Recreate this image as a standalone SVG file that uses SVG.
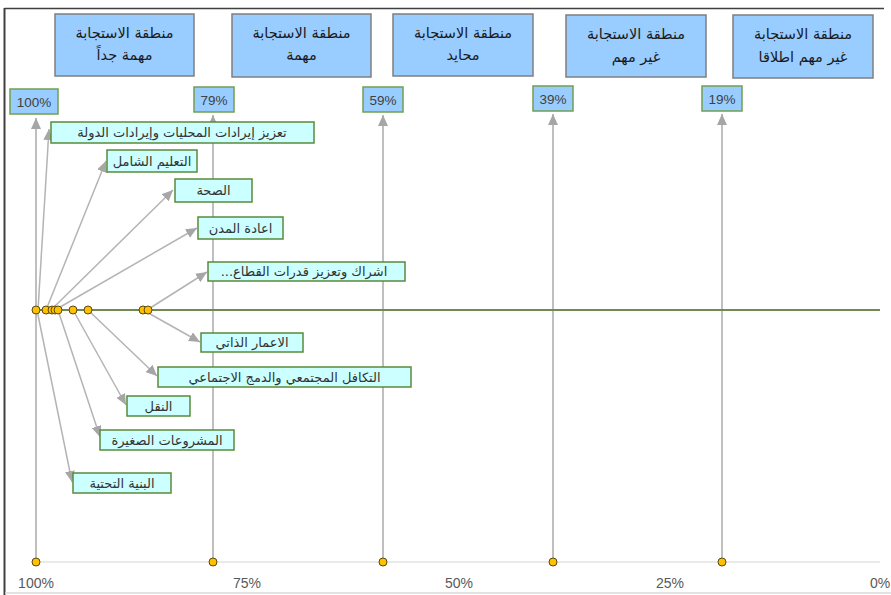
<svg xmlns="http://www.w3.org/2000/svg" width="891" height="595" viewBox="0 0 891 595">
<defs>
<marker id="ah" markerUnits="userSpaceOnUse" markerWidth="12" markerHeight="10" refX="11" refY="5" orient="auto">
<path d="M0,0 L11,5 L0,10 Z" fill="#a6a6a6"/>
</marker>
<style>
.hdr{fill:#99ccff;stroke:#7f7f7f;stroke-width:1.5}
.ht{font-family:"DejaVu Sans",sans-serif;font-size:14.5px;fill:#1a1a1a;text-anchor:middle}
.pct{fill:#99ccff;stroke:#70a050;stroke-width:1.5}
.pt{font-family:"Liberation Sans",sans-serif;font-size:13.5px;fill:#404040;text-anchor:middle}
.lab{fill:#ccffff;stroke:#5a8a3a;stroke-width:1.5}
.lt{font-family:"DejaVu Sans",sans-serif;font-size:13px;fill:#333;text-anchor:middle}
.vl{stroke:#bfbfbf;stroke-width:2;fill:none}
.ar{stroke:#b4b4b4;stroke-width:1.5;fill:none;marker-end:url(#ah)}
.dot{fill:#ffc000;stroke:#5a4a10;stroke-width:1}
.ax{font-family:"Liberation Sans",sans-serif;font-size:14px;fill:#595959;text-anchor:middle}
</style>
</defs>
<rect width="891" height="595" fill="#fff"/>
<line x1="4.5" y1="8.5" x2="884" y2="8.5" stroke="#404040" stroke-width="1.5"/>
<line x1="4.5" y1="8" x2="4.5" y2="595" stroke="#404040" stroke-width="2"/>
<line x1="5" y1="593" x2="891" y2="593" stroke="#d9d9d9" stroke-width="1.5"/>

<!-- header zones -->
<g id="zone1"><rect class="hdr" x="55" y="14" width="139" height="62"/><text class="ht" x="124.5" y="38">منطقة الاستجابة</text><text class="ht" x="124.5" y="60">مهمة جداً</text></g>
<g id="zone2"><rect class="hdr" x="232" y="14" width="139" height="63"/><text class="ht" x="301.5" y="38">منطقة الاستجابة</text><text class="ht" x="301.5" y="60">مهمة</text></g>
<g id="zone3"><rect class="hdr" x="393" y="14" width="140" height="62"/><text class="ht" x="463" y="38">منطقة الاستجابة</text><text class="ht" x="463" y="60">محايد</text></g>
<g id="zone4"><rect class="hdr" x="566" y="15" width="140" height="62"/><text class="ht" x="636" y="39">منطقة الاستجابة</text><text class="ht" x="636" y="62">غير مهم</text></g>
<g id="zone5"><rect class="hdr" x="733" y="15" width="140" height="63"/><text class="ht" x="803" y="39">منطقة الاستجابة</text><text class="ht" x="803" y="62">غير مهم اطلاقا</text></g>

<!-- connectors -->
<g id="connectors">
<line x1="36" y1="562" x2="880" y2="562" stroke="#e3e3e3" stroke-width="1.5"/>
<line class="vl" x1="36" y1="562" x2="36" y2="118" style="marker-end:url(#ah)"/>
<line class="vl" x1="213" y1="562" x2="213" y2="115" style="marker-end:url(#ah)"/>
<line class="vl" x1="383" y1="562" x2="383" y2="115" style="marker-end:url(#ah)"/>
<line class="vl" x1="553" y1="562" x2="553" y2="114" style="marker-end:url(#ah)"/>
<line class="vl" x1="722" y1="562" x2="722" y2="114" style="marker-end:url(#ah)"/>
<line x1="36" y1="310" x2="880" y2="310" stroke="#6f8a55" stroke-width="1.8"/>
<line class="ar" x1="38" y1="310" x2="49" y2="129"/>
<line class="ar" x1="46" y1="310" x2="106" y2="161"/>
<line class="ar" x1="51" y1="310" x2="173" y2="190"/>
<line class="ar" x1="55" y1="310" x2="197" y2="228"/>
<line class="ar" x1="147" y1="310" x2="207" y2="272"/>
<line class="ar" x1="143" y1="310" x2="200" y2="342"/>
<line class="ar" x1="88" y1="310" x2="157" y2="376"/>
<line class="ar" x1="73" y1="310" x2="126" y2="405"/>
<line class="ar" x1="58" y1="310" x2="100" y2="437"/>
<line class="ar" x1="37" y1="310" x2="72" y2="482"/>
</g>

<!-- percentage markers -->
<g id="p100"><rect class="pct" x="10" y="89" width="48" height="25"/><text class="pt" x="34" y="106.5">100%</text></g>
<g id="p79"><rect class="pct" x="194" y="87" width="40" height="25"/><text class="pt" x="214" y="104.5">79%</text></g>
<g id="p59"><rect class="pct" x="363" y="87" width="40" height="25"/><text class="pt" x="383" y="104.5">59%</text></g>
<g id="p39"><rect class="pct" x="533" y="86" width="40" height="25"/><text class="pt" x="553" y="103.5">39%</text></g>
<g id="p19"><rect class="pct" x="702" y="86" width="40" height="25"/><text class="pt" x="722" y="103.5">19%</text></g>

<!-- item labels -->
<g id="item1"><rect class="lab" x="51" y="122" width="263" height="21"/><text class="lt" x="182" y="137">تعزيز إيرادات المحليات وإيرادات الدولة</text></g>
<g id="item2"><rect class="lab" x="107" y="150" width="90" height="22"/><text class="lt" x="152" y="165.5">التعليم الشامل</text></g>
<g id="item3"><rect class="lab" x="175" y="179" width="77" height="23"/><text class="lt" x="213.5" y="195">الصحة</text></g>
<g id="item4"><rect class="lab" x="198" y="217" width="85" height="22"/><text class="lt" x="240.5" y="232.5">اعادة المدن</text></g>
<g id="item5"><rect class="lab" x="208" y="262" width="197" height="19"/><text class="lt" x="304" y="276" direction="rtl" unicode-bidi="embed">اشراك وتعزيز قدرات القطاع...</text></g>
<g id="item6"><rect class="lab" x="201" y="333" width="102" height="19"/><text class="lt" x="252" y="347">الاعمار الذاتي</text></g>
<g id="item7"><rect class="lab" x="158" y="367" width="253" height="20"/><text class="lt" x="284.5" y="381.5">التكافل المجتمعي والدمج الاجتماعي</text></g>
<g id="item8"><rect class="lab" x="127" y="396" width="63" height="20"/><text class="lt" x="158.5" y="410.5">النقل</text></g>
<g id="item9"><rect class="lab" x="100" y="430" width="134" height="20"/><text class="lt" x="167" y="444.5">المشروعات الصغيرة</text></g>
<g id="item10"><rect class="lab" x="73" y="473" width="98" height="20"/><text class="lt" x="122" y="487.5">البنية التحتية</text></g>

<!-- dots -->
<g id="timeline-dots">
<circle class="dot" cx="36" cy="310" r="4"/>
<circle class="dot" cx="46" cy="310" r="4"/>
<circle class="dot" cx="52" cy="310" r="4"/>
<circle class="dot" cx="55" cy="310" r="4"/>
<circle class="dot" cx="58" cy="310" r="4"/>
<circle class="dot" cx="73" cy="310" r="4"/>
<circle class="dot" cx="88" cy="310" r="4"/>
<circle class="dot" cx="143" cy="310" r="4"/>
<circle class="dot" cx="148" cy="310" r="4"/>
</g>
<g id="axis-dots">
<circle class="dot" cx="36" cy="562" r="4"/>
<circle class="dot" cx="213" cy="562" r="4"/>
<circle class="dot" cx="383" cy="562" r="4"/>
<circle class="dot" cx="553" cy="562" r="4"/>
<circle class="dot" cx="722" cy="562" r="4"/>
</g>
<g id="axis-labels">
<text class="ax" x="36" y="588">100%</text>
<text class="ax" x="247" y="588">75%</text>
<text class="ax" x="459" y="588">50%</text>
<text class="ax" x="670" y="588">25%</text>
<text class="ax" x="880" y="588">0%</text>
</g>
</svg>
